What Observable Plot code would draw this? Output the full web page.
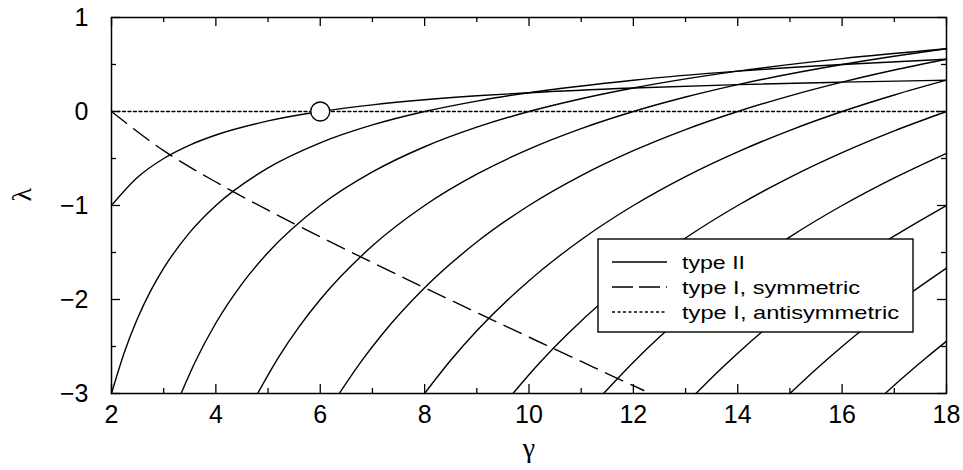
<!DOCTYPE html>
<html><head><meta charset="utf-8">
<script src="https://cdn.jsdelivr.net/npm/d3@7"></script>
<script src="https://cdn.jsdelivr.net/npm/@observablehq/plot@0.6"></script>
<style>body{margin:0;background:#fff} #chart{width:963px;height:470px}</style>
</head><body><div id="chart"></div>
<script>
// Type II branches: [gamma, lambda] pairs
const branch1 = [[2,-1],[2.5,-0.7],[3,-0.5],[3.5,-0.357],[4,-0.25],[5,-0.1],[6,0],[7,0.071],[8,0.125],[9,0.167],[10,0.2],[12,0.25],[14,0.286],[16,0.3125],[18,0.333]];
const branch2 = [[2,-3],[2.25,-2.556],[2.5,-2.2],[2.75,-1.909],[3,-1.667],[3.5,-1.286],[4,-1],[5,-0.6],[6,-0.333],[7,-0.143],[8,0],[9,0.111],[10,0.2],[12,0.333],[14,0.429],[16,0.5],[18,0.556]];
const branch3 = [[3.333,-3],[3.6,-2.667],[4,-2.25],[4.5,-1.833],[5,-1.5],[6,-1],[7,-0.643],[8,-0.375],[9,-0.167],[10,0],[11,0.136],[12,0.25],[14,0.429],[16,0.5625],[18,0.667]];
const branch4 = [[4.8,-3],[5.2,-2.615],[5.6,-2.286],[6,-2],[7,-1.429],[8,-1],[9,-0.667],[10,-0.4],[11,-0.182],[12,0],[13,0.154],[14,0.286],[16,0.5],[18,0.667]];
const branch5 = [[6.364,-3],[6.8,-2.647],[7.2,-2.361],[8,-1.875],[9,-1.389],[10,-1],[11,-0.682],[12,-0.417],[13,-0.192],[14,0],[15,0.167],[16,0.3125],[17,0.441],[18,0.556]];
const branch6 = [[8,-3],[8.5,-2.647],[9,-2.333],[10,-1.8],[11,-1.364],[12,-1],[13,-0.692],[14,-0.429],[15,-0.2],[16,0],[17,0.176],[18,0.333]];
const branch7 = [[9.692,-3],[10.2,-2.676],[10.7,-2.388],[11.5,-1.978],[12,-1.75],[13,-1.346],[14,-1],[15,-0.7],[16,-0.4375],[17,-0.206],[18,0]];
const branch8 = [[11.429,-3],[12,-2.667],[12.5,-2.4],[13,-2.154],[14,-1.714],[15,-1.333],[16,-1],[17,-0.706],[18,-0.444]];
const branch9 = [[13.2,-3],[13.6,-2.779],[14,-2.571],[15,-2.1],[16,-1.6875],[17,-1.324],[18,-1]];
const branch10 = [[15,-3],[15.5,-2.742],[16,-2.5],[17,-2.059],[18,-1.667]];
const branch11 = [[16.824,-3],[17.2,-2.814],[17.6,-2.625],[18,-2.444]];
// Type I, symmetric (dashed)
const symmetric = [[2,0],[3,-0.417],[4,-0.75],[5,-1.05],[6,-1.333],[7,-1.607],[8,-1.875],[9,-2.139],[10,-2.4],[11,-2.659],[12,-2.917],[12.2,-2.968]];
// Type I, antisymmetric (dotted)
const antisymmetric = [[2,0],[18,0]];
// Marked point
const marker = [[6,0]];
// Ticks
const xMajor = [2,4,6,8,10,12,14,16,18];
const xMinor = [3,5,7,9,11,13,15,17];
const yMajor = [-3,-2,-1,0,1];
const yMinor = [-2.5,-1.5,-0.5,0.5];
const legendLabels = ["type II","type I, symmetric","type I, antisymmetric"];
const legendWidths = [63,178,217];

const branches = [branch1,branch2,branch3,branch4,branch5,branch6,branch7,branch8,branch9,branch10,branch11];
const typeII = branches.flatMap((b,i)=>b.map(([g,l])=>({g,l,k:i})));

const W=963,H=470,mL=111,mR=17,mT=17,mB=77;
const fW=W-mL-mR, fH=H-mT-mB;
const font="'Liberation Sans', Arial, sans-serif";
const fmt = d => d < 0 ? "\u2212" + Math.abs(d) : String(d);
const lw = 1.4;

const plot = Plot.plot({
  width:W, height:H, marginLeft:mL, marginRight:mR, marginTop:mT, marginBottom:mB,
  x:{domain:[2,18]}, y:{domain:[-3,1]},
  style:{fontFamily:font, fontSize:"25px", color:"black", background:"white"},
  marks:[
    Plot.line(antisymmetric,{x:d=>d[0],y:d=>d[1],stroke:"black",strokeWidth:1.3,strokeDasharray:"3,2.5"}),
    Plot.line(typeII,{x:"g",y:"l",z:"k",stroke:"black",strokeWidth:lw,curve:"monotone-x"}),
    Plot.line(symmetric,{x:d=>d[0],y:d=>d[1],stroke:"black",strokeWidth:lw,strokeDasharray:"19,9",curve:"monotone-x"}),
    Plot.dot(marker,{x:d=>d[0],y:d=>d[1],r:9.5,fill:"white",stroke:"black",strokeWidth:1.4}),
    Plot.ruleX(xMajor,{stroke:"black",strokeWidth:1.3,insetTop:fH-9}),
    Plot.ruleX(xMajor,{stroke:"black",strokeWidth:1.3,insetBottom:fH-9}),
    Plot.ruleX(xMinor,{stroke:"black",strokeWidth:1.3,insetTop:fH-5}),
    Plot.ruleX(xMinor,{stroke:"black",strokeWidth:1.3,insetBottom:fH-5}),
    Plot.ruleY(yMajor,{stroke:"black",strokeWidth:1.3,insetRight:fW-9}),
    Plot.ruleY(yMajor,{stroke:"black",strokeWidth:1.3,insetLeft:fW-9}),
    Plot.ruleY(yMinor,{stroke:"black",strokeWidth:1.3,insetRight:fW-5}),
    Plot.ruleY(yMinor,{stroke:"black",strokeWidth:1.3,insetLeft:fW-5}),
    Plot.axisX(xMajor,{tickSize:0,tickPadding:12,label:null,fontSize:25,tickFormat:fmt}),
    Plot.axisY(yMajor,{tickSize:0,tickPadding:23,label:null,fontSize:25,tickFormat:fmt}),
    Plot.text(["γ"],{frameAnchor:"bottom",dy:63,fontSize:28,fontFamily:"Liberation Serif"}),
    Plot.text(["λ"],{frameAnchor:"left",dx:-89,dy:-4,rotate:-90,fontSize:28,fontFamily:"Liberation Serif"}),
    Plot.frame({stroke:"black",strokeWidth:1.5})
  ]
});
document.getElementById("chart").appendChild(plot);

// Legend box
const svg = d3.select(plot);
const lg = svg.append("g").attr("text-anchor","start");
lg.append("rect").attr("x",598).attr("y",239).attr("width",315).attr("height",93)
  .attr("fill","white").attr("stroke","black").attr("stroke-width",1.4);
const dashes = ["none","21,6","3,2.5"];
legendLabels.forEach((t,i)=>{
  const y = 262 + i*25;
  lg.append("line").attr("x1",612).attr("x2",667).attr("y1",y).attr("y2",y)
    .attr("stroke","black").attr("stroke-width",1.3).attr("stroke-dasharray",dashes[i]);
  lg.append("text").attr("x",682).attr("y",y).attr("dy","0.35em")
    .attr("text-anchor","start")
    .attr("textLength",legendWidths[i]).attr("lengthAdjust","spacingAndGlyphs")
    .attr("font-family",font).attr("font-size",19).attr("fill","black").text(t);
});
</script></body></html>
